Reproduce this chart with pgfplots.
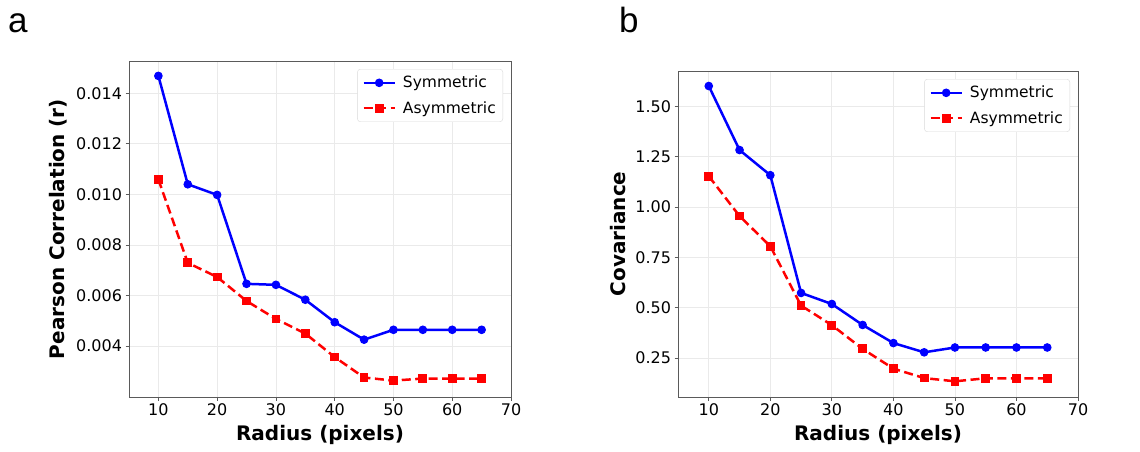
\documentclass[border=0pt]{standalone}
\usepackage{fontspec}
\setmainfont{DejaVu Sans}
\newfontfamily\panelfont{Liberation Sans}
\usepackage{pgfplots}
\pgfplotsset{compat=1.18}
\definecolor{gridgray}{RGB}{234,234,234}
\definecolor{framegray}{RGB}{90,90,90}
\pgfplotsset{
  common/.style={
    scale only axis,
    xmin=5, xmax=70,
    xtick={10,20,30,40,50,60,70},
    grid=major,
    major grid style={gridgray, line width=0.8pt},
    axis line style={framegray, line width=1pt},
    tick style={framegray, line width=0.8pt},
    major tick length=3.5pt,
    tick align=outside,
    xtick pos=bottom, ytick pos=left,
    ticklabel style={font=\fontsize{16}{19}\selectfont},
    label style={font=\bfseries\fontsize{20}{24}\selectfont},
    /pgf/number format/assume math mode=true,
    scaled y ticks=false,
    legend style={at={(1,1)}, anchor=north east, xshift=-8pt, yshift=-8pt,
      draw=black!15, rounded corners=3pt, fill=white,
      font=\fontsize{15.5}{18}\selectfont, cells={anchor=west},
      inner xsep=5pt, inner ysep=5pt, row sep=8pt, column sep=5pt},
    legend image code/.code={
      \draw[mark=none] (0pt,0pt) -- (31pt,0pt);
      \draw plot coordinates {(15.5pt,0pt)};},
  },
  sym/.style={blue, line width=2.5pt, mark=*, mark size=3.8pt, mark options={solid, line width=1pt}},
  asym/.style={red, line width=2.5pt, dash pattern=on 9pt off 4.5pt, mark=square*, mark size=3.9pt, mark options={solid, line width=1pt}},
}
\begin{document}
\begin{tikzpicture}
\useasboundingbox (0,0) rectangle (1140pt,451pt);
\node[anchor=base west, inner sep=0pt, font=\panelfont\fontsize{35}{40}\selectfont] at (8pt,418pt) {a};
\node[anchor=base west, inner sep=0pt, font=\panelfont\fontsize{35}{40}\selectfont] at (619pt,418pt) {b};

\begin{axis}[common,
  at={(129pt,54pt)}, anchor=south west,
  width=382pt, height=336pt,
  ymin=0.00198, ymax=0.01528,
  ytick={0.004,0.006,0.008,0.010,0.012,0.014},
  yticklabel style={/pgf/number format/.cd, fixed, precision=3, zerofill},
  xlabel={Radius (pixels)},
  ylabel={Pearson Correlation (r)},
  xlabel style={at={(axis description cs:0.5,-0.113)}, anchor=center},
  ylabel style={at={(axis description cs:-0.186,0.5)}, anchor=center},
]
\addplot[sym] coordinates {
(10,0.01469) (15,0.01040) (20,0.00998) (25,0.00646) (30,0.00642) (35,0.00583)
(40,0.00494) (45,0.00425) (50,0.00464) (55,0.00464) (60,0.00464) (65,0.00464)};
\addlegendentry{Symmetric}
\addplot[asym] coordinates {
(10,0.01059) (15,0.00729) (20,0.00673) (25,0.00578) (30,0.00507) (35,0.00449)
(40,0.00356) (45,0.00275) (50,0.00263) (55,0.00271) (60,0.00271) (65,0.00271)};
\addlegendentry{Asymmetric}
\end{axis}

\begin{axis}[common,
  at={(678pt,54pt)}, anchor=south west,
  width=400pt, height=326pt,
  ymin=0.056, ymax=1.6756,
  ytick={0.25,0.50,0.75,1.00,1.25,1.50},
  yticklabel style={/pgf/number format/.cd, fixed, precision=2, zerofill},
  xlabel={Radius (pixels)},
  ylabel={Covariance},
  xlabel style={at={(axis description cs:0.5,-0.1166)}, anchor=center},
  ylabel style={at={(axis description cs:-0.15,0.5)}, anchor=center},
]
\addplot[sym] coordinates {
(10,1.601) (15,1.283) (20,1.158) (25,0.573) (30,0.518) (35,0.414)
(40,0.324) (45,0.278) (50,0.302) (55,0.302) (60,0.302) (65,0.302)};
\addlegendentry{Symmetric}
\addplot[asym] coordinates {
(10,1.153) (15,0.955) (20,0.805) (25,0.510) (30,0.413) (35,0.295)
(40,0.197) (45,0.150) (50,0.134) (55,0.149) (60,0.149) (65,0.149)};
\addlegendentry{Asymmetric}
\node[anchor=south west, inner sep=0pt, font=\fontsize{10}{12}\selectfont, text=black!75] at (axis description cs:0,1) [yshift=2pt] {1e6};
\end{axis}
\end{tikzpicture}
\end{document}
